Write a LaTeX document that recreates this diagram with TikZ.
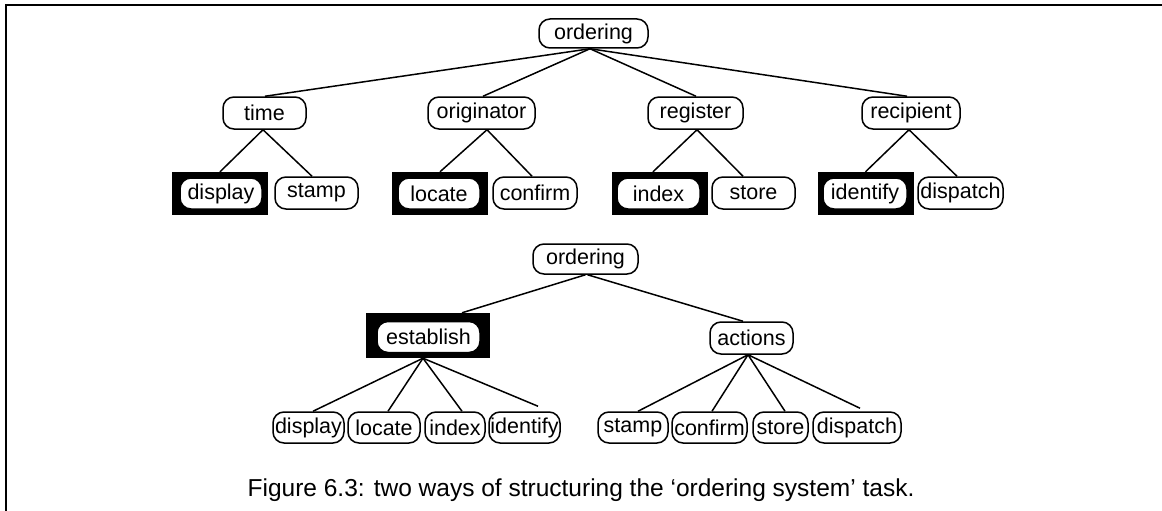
\documentclass[tikz,border=0pt]{standalone}
\usepackage{fontspec}
\setmainfont{Liberation Sans}
\begin{document}
\begin{tikzpicture}[x=1pt,y=-1pt,
  lab/.style={font=\fontsize{21.5}{25}\selectfont},
  box/.style={lab, draw, rounded corners=11pt, line width=1.5pt, inner sep=0pt, fill=white, minimum height=#1},
  box/.default=32pt,
  blk/.style={fill=black, inner sep=0pt, minimum width=96pt, minimum height=43pt},
  conn/.style={line width=1.5pt}]
\useasboundingbox (0,0) rectangle (1162,511);
\draw[line width=1.5pt] (1162,5) -- (6,5) -- (6,511);

% ---------- top tree ----------
\node[box=29pt, minimum width=109pt] (o1) at (593.5,33.5) {ordering};
\node[box, minimum width=83pt] (time) at (264.5,113) {time};
\node[box, minimum width=107pt] (orig) at (481.5,113) {originator};
\node[box, minimum width=95pt] (reg) at (695.5,113) {register};
\node[box, minimum width=98pt] (rec) at (911,113) {recipient};

\node[blk] (disB) at (219.5,193.5) {};
\node[box=31pt, minimum width=82pt] (dis) at (221,193.5) {display};
\node[box, minimum width=83pt] (sta) at (316.5,193) {stamp};
\node[blk] (locB) at (440,193.5) {};
\node[box=31pt, minimum width=82pt] (loc) at (439,193.5) {locate};
\node[box, minimum width=84pt] (con) at (535,193) {confirm};
\node[blk] (idxB) at (660,193.5) {};
\node[box=31pt, minimum width=83pt] (idx) at (658.5,193.5) {index};
\node[box, minimum width=83pt] (sto) at (753.5,193) {store};
\node[blk] (ideB) at (865.5,193.5) {};
\node[box=31pt, minimum width=84pt] (ide) at (865,193.5) {identify};
\node[box, minimum width=85pt] (dsp) at (960.5,193) {dispatch};

\draw[conn] ([xshift=-3.5pt]o1.south) -- ([xshift=0.5pt]time.north);
\draw[conn] ([xshift=-3.5pt]o1.south) -- ([xshift=1.5pt]orig.north);
\draw[conn] ([xshift=-3.5pt]o1.south) -- ([xshift=0.5pt]reg.north);
\draw[conn] ([xshift=-3.5pt]o1.south) -- ([xshift=-4pt]rec.north);

\draw[conn] ([xshift=-1.5pt]time.south) -- ([xshift=0.5pt]disB.north);
\draw[conn] ([xshift=-1.5pt]time.south) -- ([xshift=-4.5pt]sta.north);
\draw[conn] ([xshift=5.5pt]orig.south) -- (locB.north);
\draw[conn] ([xshift=5.5pt]orig.south) -- ([xshift=-3pt]con.north);
\draw[conn] ([xshift=1.5pt]reg.south) -- ([xshift=-7pt]idxB.north);
\draw[conn] ([xshift=1.5pt]reg.south) -- ([xshift=-10.5pt]sto.north);
\draw[conn] ([xshift=-2pt]rec.south) -- (ideB.north);
\draw[conn] ([xshift=-2pt]rec.south) -- ([xshift=-3.5pt]dsp.north);

% ---------- bottom tree ----------
\node[box=30pt, minimum width=105pt] (o2) at (585.5,259) {ordering};
\node[blk, minimum width=124pt, minimum height=45pt] (estB) at (428,335.5) {};
\node[box=31pt, minimum width=103pt] (est) at (428.5,337) {establish};
\node[box, minimum width=83pt] (act) at (751.5,338) {actions};

\node[box=31pt, minimum width=71pt] (dis2) at (308.5,427.5) {display};
\node[box=31pt, minimum width=72pt] (loc2) at (384,427.5) {locate};
\node[box=31pt, minimum width=60pt] (idx2) at (455,427.5) {index};
\node[box=31pt, minimum width=71pt] (ide2) at (524.5,427.5) {identify};
\node[box=31pt, minimum width=70pt] (sta2) at (633,427.5) {stamp};
\node[box=31pt, minimum width=75pt] (con2) at (709.5,427.5) {confirm};
\node[box=31pt, minimum width=55pt] (sto2) at (780.5,427.5) {store};
\node[box=31pt, minimum width=88pt] (dsp2) at (857,427.5) {dispatch};

\draw[conn] (o2.south) -- ([xshift=34pt]estB.north);
\draw[conn] ([xshift=2pt]o2.south) -- ([xshift=-8.5pt]act.north);

\draw[conn] ([xshift=-5pt]estB.south) -- ([xshift=4.5pt]dis2.north);
\draw[conn] ([xshift=-5pt]estB.south) -- ([xshift=4pt]loc2.north);
\draw[conn] ([xshift=-5pt]estB.south) -- ([xshift=7pt]idx2.north);
\draw[conn] ([xshift=-5pt]estB.south) -- ([xshift=13.5pt,yshift=5pt]ide2.north);
\draw[conn] ([xshift=-3.5pt]act.south) -- ([xshift=5pt]sta2.north);
\draw[conn] ([xshift=-3.5pt]act.south) -- ([xshift=2.5pt]con2.north);
\draw[conn] ([xshift=-3.5pt]act.south) -- ([xshift=4.5pt]sto2.north);
\draw[conn] ([xshift=-3.5pt]act.south) -- ([xshift=3pt,yshift=3pt]dsp2.north);

% ---------- caption ----------
\node[font=\fontsize{24.5}{28}\selectfont, inner sep=0pt] (cap) at (581,490) {Figure 6.3: two ways of structuring the ‘ordering system’ task.};
\end{tikzpicture}
\end{document}
